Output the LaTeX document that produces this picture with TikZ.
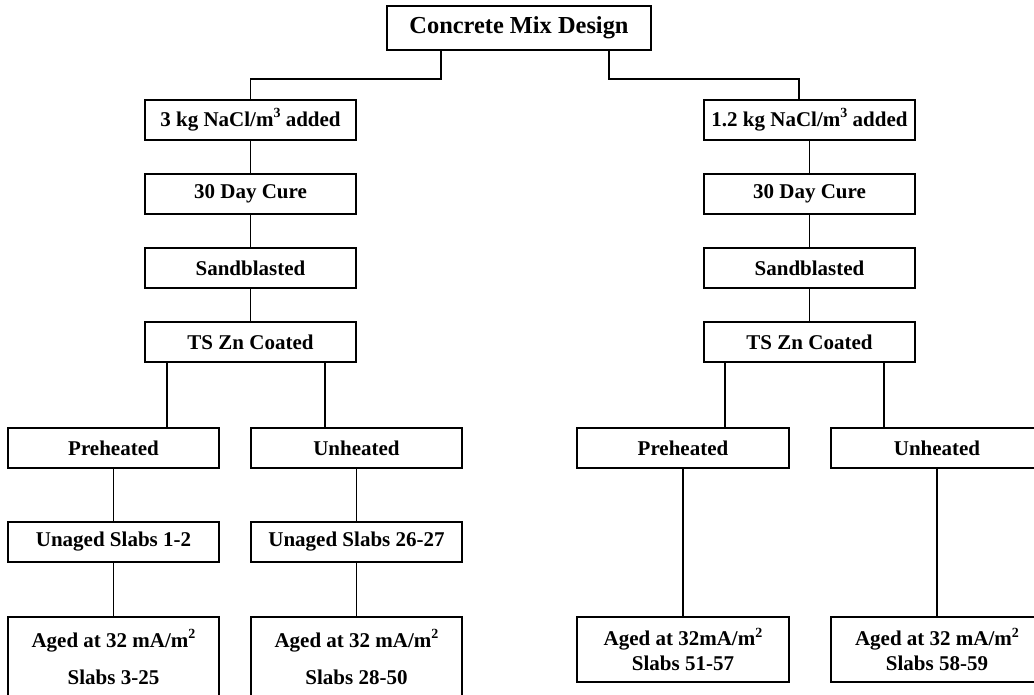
\documentclass[tikz,border=0pt]{standalone}
\usepackage{fontspec}
\setmainfont{Liberation Serif}
\newcommand{\supx}[1]{\raisebox{0.9ex}{\fontsize{14}{14}\selectfont #1}}
\begin{document}
\begin{tikzpicture}[x=1pt,y=-1pt,
  box/.style={draw,line width=1.5pt,inner sep=0pt,align=center,font=\fontsize{21}{25}\selectfont\bfseries,minimum width=211pt,minimum height=40pt},
  wire/.style={line width=1.5pt}]
\clip (0,0) rectangle (1034,694);
\fill[white] (0,0) rectangle (1034,694);
% top
\node[box,minimum width=264pt,minimum height=44pt,font=\fontsize{24.4}{28}\selectfont\bfseries] (top) at (519,28) {Concrete Mix Design};
% left column
\node[box] (L1) at (250.5,120) {3 kg NaCl/m\supx{3} added};
\node[box] (L2) at (250.5,194) {30 Day Cure};
\node[box] (L3) at (250.5,268) {Sandblasted};
\node[box] (L4) at (250.5,342) {TS Zn Coated};
% right column
\node[box] (R1) at (809.5,120) {1.2 kg NaCl/m\supx{3} added};
\node[box] (R2) at (809.5,194) {30 Day Cure};
\node[box] (R3) at (809.5,268) {Sandblasted};
\node[box] (R4) at (809.5,342) {TS Zn Coated};
% left lower
\node[box] (LP) at (113.5,448) {Preheated};
\node[box] (LU) at (356.5,448) {Unheated};
\node[box] (LPu) at (113.5,542) {Unaged Slabs 1-2};
\node[box] (LUu) at (356.5,542) {Unaged Slabs 26-27};
\node[box,minimum height=80pt,font=\fontsize{21}{37}\selectfont\bfseries] (LPa) at (113.5,657) {Aged at 32 mA/m\supx{2}\\Slabs 3-25};
\node[box,minimum height=80pt,font=\fontsize{21}{37}\selectfont\bfseries] (LUa) at (356.5,657) {Aged at 32 mA/m\supx{2}\\Slabs 28-50};
% right lower
\node[box,minimum width=212pt] (RP) at (683,448) {Preheated};
\node[box,minimum width=212pt] (RU) at (937,448) {Unheated};
\node[box,minimum width=212pt,minimum height=65pt] (RPa) at (683,649.5) {Aged at 32mA/m\supx{2}\\Slabs 51-57};
\node[box,minimum width=212pt,minimum height=65pt] (RUa) at (937,649.5) {Aged at 32 mA/m\supx{2}\\Slabs 58-59};
% connectors
\coordinate (jl) at (441,79);
\coordinate (jr) at (609,79);
\coordinate (r1in) at ([xshift=-10.5pt]R1.north);
\draw[wire] ([xshift=-78pt]top.south) -- (jl) -- (jl -| L1.north) -- (L1.north);
\draw[wire] ([xshift=90pt]top.south) -- (jr) -- (jr -| r1in) -- (r1in);
\draw[wire] (L1) -- (L2);
\draw[wire] (L2) -- (L3);
\draw[wire] (L3) -- (L4);
\draw[wire] (R1) -- (R2);
\draw[wire] (R2) -- (R3);
\draw[wire] (R3) -- (R4);
\draw[wire] ([xshift=-83.5pt]L4.south) -- ([xshift=-83.5pt]L4.south |- LP.north);
\draw[wire] ([xshift=74.5pt]L4.south) -- ([xshift=74.5pt]L4.south |- LU.north);
\draw[wire] ([xshift=-84.5pt]R4.south) -- ([xshift=-84.5pt]R4.south |- RP.north);
\draw[wire] ([xshift=74.5pt]R4.south) -- ([xshift=74.5pt]R4.south |- RU.north);
\draw[wire] (LP) -- (LPu);
\draw[wire] (LPu) -- (LPa);
\draw[wire] (LU) -- (LUu);
\draw[wire] (LUu) -- (LUa);
\draw[wire] (RP) -- (RPa);
\draw[wire] (RU) -- (RUa);
\end{tikzpicture}
\end{document}
